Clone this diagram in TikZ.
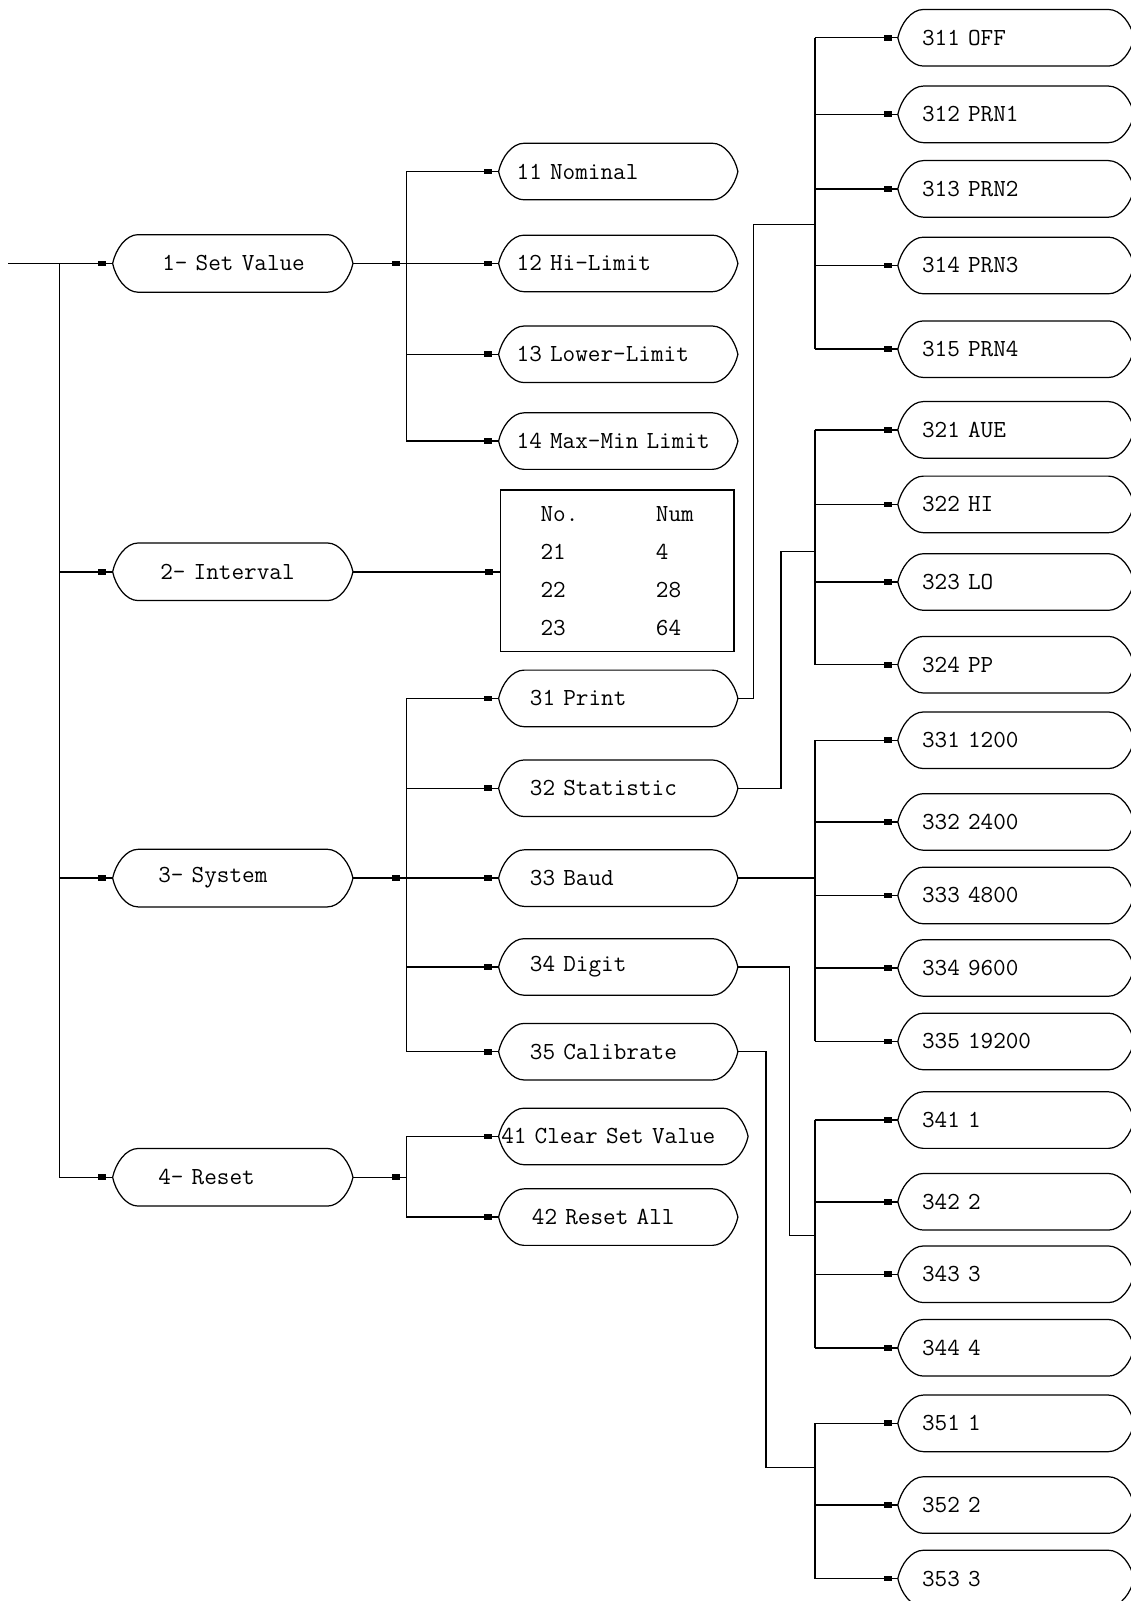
\documentclass[tikz,border=0pt]{standalone}
\usepackage{fontspec}
\usepackage{tikz}
\usetikzlibrary{arrows.meta,positioning,calc}
\newcommand{\menuframe}[1]{%
  \draw[frame] (#1.west) .. controls +(1.5pt,7pt) and +(-6pt,0pt) .. ([xshift=12.5pt]#1.north west)
    -- ([xshift=-12.5pt]#1.north east) .. controls +(6pt,0pt) and +(-1.5pt,7pt) .. (#1.east)
    .. controls +(-1.5pt,-7pt) and +(6pt,0pt) .. ([xshift=-12.5pt]#1.south east)
    -- ([xshift=12.5pt]#1.south west) .. controls +(-6pt,0pt) and +(1.5pt,-7pt) .. (#1.west);}

\begin{document}
\begin{tikzpicture}[x=0.5pt, y=-0.5pt, >={Rectangle[length=4pt,width=2.8pt]}, line width=0.7pt,
    every node/.style={font=\ttfamily\fontsize{12}{13}\selectfont},
    frame/.style={line width=0.6pt},
    feed/.style={postaction={draw, ->, shorten >=3pt}},
    item/.style={text width=#1, minimum height=27pt, inner xsep=0pt, inner ysep=0pt, align=left},
    pad/.style={execute at begin node={\hspace*{#1}}}]
    \useasboundingbox (0,0) rectangle (1107,1568);

    \node[item=117pt, pad=24pt, minimum height=27.5pt] (n1) at (228,258) {1- Set Value};
    \node[item=117pt, pad=23pt, minimum height=27.5pt] (n2) at (228,560) {2- Interval};
    \node[item=117pt, pad=22pt, minimum height=27.5pt] (n3) at (228,860) {3- System};
    \node[item=117pt, pad=22pt, minimum height=27.5pt] (n4) at (228,1153) {4- Reset};

    \foreach \id/\y/\txt in {11/168/11 Nominal, 12/258/12 Hi-Limit, 13/347/13 Lower-Limit, 14/432/14 Max-Min Limit}
        \node[item=116.5pt, pad=8.5pt] (n\id) at (605.5,\y) {\txt};
    \foreach \id/\y/\txt in {31/684/31 Print, 32/772/32 Statistic, 33/860/33 Baud, 34/947/34 Digit, 35/1030/35 Calibrate}
        \node[item=116.5pt, pad=15pt] (n\id) at (605.5,\y) {\txt};
    \node[item=121.5pt, pad=1pt] (n41) at (610.5,1113) {41 Clear Set Value};
    \node[item=116.5pt, pad=16pt] (n42) at (605.5,1192) {42 Reset All};

    \node[draw, minimum width=114.5pt, minimum height=79pt, inner sep=0pt,
        font=\ttfamily\fontsize{12}{18.7}\selectfont] (tab) at (604.5,559)
        {\begin{tabular}{@{}p{56.5pt}@{}l@{}}No. & Num\\ 21 & 4\\ 22 & 28\\ 23 & 64\end{tabular}};

    \foreach \id/\y/\txt in {311/37/311 OFF, 312/112/312 PRN1, 313/185/313 PRN2, 314/260/314 PRN3, 315/342/315 PRN4,
        321/421/321 AUE, 322/494/322 HI, 323/570/323 LO, 324/651/324 PP,
        331/725/331 1200, 332/805/332 2400, 333/877/333 4800, 334/948/334 9600, 335/1020/335 19200,
        341/1097/341 1, 342/1177/342 2, 343/1248/343 3, 344/1320/344 4,
        351/1394/351 1, 352/1474/352 2, 353/1546/353 3}
        \node[item=115pt, pad=11.5pt] (n\id) at (995,\y) {\txt};

    \foreach \k in {1,2,3,4,11,12,13,14,31,32,33,34,35,41,42,311,312,313,314,315,321,322,323,324,
        331,332,333,334,335,341,342,343,344,351,352,353}
        \menuframe{n\k};

    \coordinate (in) at (8,258);
    \coordinate (trunk) at (58,258);
    \coordinate (bus1) at (398,258);
    \coordinate (bus3) at (398,860);
    \coordinate (bus4) at (398,1153);
    \coordinate (j31) at (738,220);
    \coordinate (bus31) at (798,220);
    \coordinate (j32) at (765,540);
    \coordinate (bus32) at (798,540);
    \coordinate (bus33) at (798,860);
    \coordinate (j34) at (773,1210);
    \coordinate (bus34) at (798,1210);
    \coordinate (j35) at (750,1437);
    \coordinate (bus35) at (798,1437);

    \draw[feed] (in) -- (n1.west);
    \draw[feed] (trunk) |- (n4.west);
    \foreach \k in {2,3}
        \draw[feed] (trunk |- n\k.west) -- (n\k.west);

    \draw[feed] (n1.east) -- (bus1);
    \draw (bus1 |- n11.west) -- (bus1 |- n14.west);
    \foreach \k in {11,...,14}
        \draw[feed] (bus1 |- n\k.west) -- (n\k.west);

    \draw[feed] (n2.east) -- (n2.east -| tab.west);

    \draw[feed] (n3.east) -- (bus3);
    \draw (bus3 |- n31.west) -- (bus3 |- n35.west);
    \foreach \k in {31,...,35}
        \draw[feed] (bus3 |- n\k.west) -- (n\k.west);

    \draw[feed] (n4.east) -- (bus4);
    \draw (bus4 |- n41.west) -- (bus4 |- n42.west);
    \foreach \k in {41,42}
        \draw[feed] (bus4 |- n\k.west) -- (n\k.west);

    \draw (n31.east) -| (j31) -- (bus31);
    \draw (bus31 |- n311.west) -- (bus31 |- n315.west);
    \foreach \k in {311,...,315}
        \draw[feed] (bus31 |- n\k.west) -- (n\k.west);

    \draw (n32.east) -| (j32) -- (bus32);
    \draw (bus32 |- n321.west) -- (bus32 |- n324.west);
    \foreach \k in {321,...,324}
        \draw[feed] (bus32 |- n\k.west) -- (n\k.west);

    \draw (n33.east) -- (bus33);
    \draw (bus33 |- n331.west) -- (bus33 |- n335.west);
    \foreach \k in {331,...,335}
        \draw[feed] (bus33 |- n\k.west) -- (n\k.west);

    \draw (n34.east) -| (j34) -- (bus34);
    \draw (bus34 |- n341.west) -- (bus34 |- n344.west);
    \foreach \k in {341,...,344}
        \draw[feed] (bus34 |- n\k.west) -- (n\k.west);

    \draw (n35.east) -| (j35) -- (bus35);
    \draw (bus35 |- n351.west) -- (bus35 |- n353.west);
    \foreach \k in {351,...,353}
        \draw[feed] (bus35 |- n\k.west) -- (n\k.west);
\end{tikzpicture}
\end{document}
